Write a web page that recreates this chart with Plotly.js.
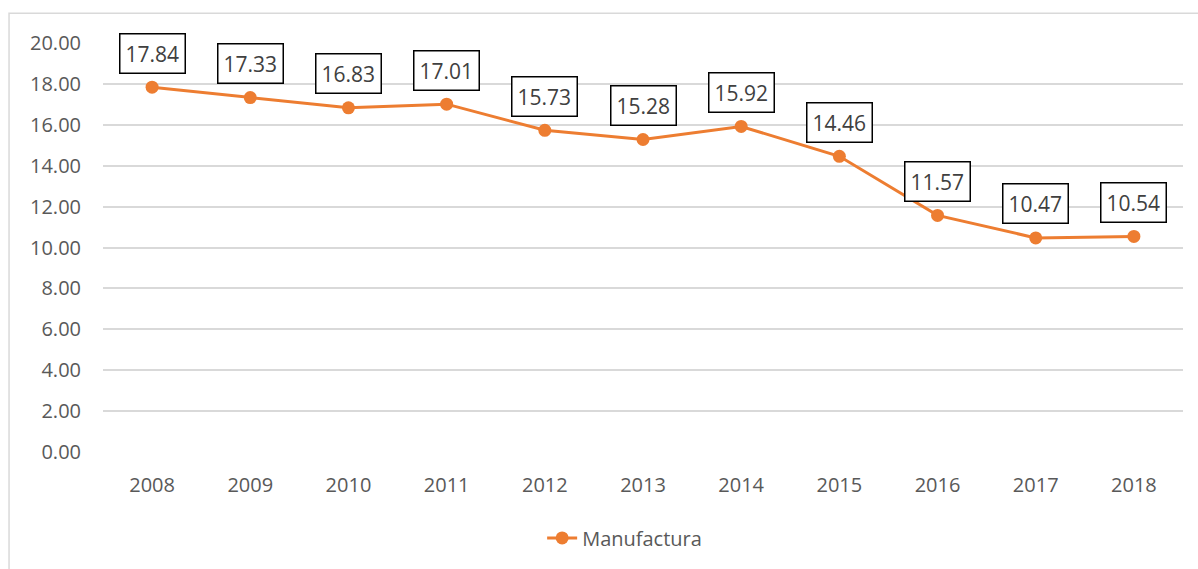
<!DOCTYPE html>
<html>
<head>
<meta charset="utf-8">
<script src="https://cdn.plot.ly/plotly-3.0.1.min.js"></script>
<style>html,body{margin:0;padding:0;background:#fff;}#chart{width:1198px;height:569px;}</style>
</head>
<body>
<div id="chart"></div>
<script>
var years = ["2008","2009","2010","2011","2012","2013","2014","2015","2016","2017","2018"];
var manufactura = [17.84, 17.33, 16.83, 17.01, 15.73, 15.28, 15.92, 14.46, 11.57, 10.47, 10.54];
var seriesName = "Manufactura";
var yTicks = [0, 2, 4, 6, 8, 10, 12, 14, 16, 18, 20];

var fontFam = "Open Sans, sans-serif";

var annotations = [];
for (var i = 0; i < years.length; i++) {
  annotations.push({
    x: i, y: manufactura[i], xref: 'x', yref: 'y',
    text: manufactura[i].toFixed(2),
    showarrow: false, yshift: 34,
    font: {family: fontFam, size: 21, color: '#404040'},
    bgcolor: '#ffffff', bordercolor: '#000000', borderwidth: 1.5, borderpad: 5
  });
}

var trace = {
  x: years, y: manufactura, type: 'scatter', mode: 'lines+markers',
  name: seriesName,
  line: {color: '#ED7D31', width: 3},
  marker: {color: '#ED7D31', size: 13}
};

var layout = {
  width: 1198, height: 569,
  margin: {l: 103, r: 15, t: 43, b: 114},
  paper_bgcolor: '#ffffff', plot_bgcolor: '#ffffff',
  showlegend: true,
  legend: {orientation: 'h', x: 0.483, xanchor: 'center', y: -0.21, yanchor: 'middle',
    font: {family: fontFam, size: 20, color: '#595959'}},
  xaxis: {type: 'category', range: [-0.5, 10.5], showgrid: false, zeroline: false,
    showline: false, ticks: '', ticklabelstandoff: 19,
    tickfont: {family: fontFam, size: 20, color: '#595959'}},
  yaxis: {range: [0, 20], tickvals: yTicks, ticktext: yTicks.map(function(v){return v.toFixed(2);}),
    showgrid: true, gridcolor: '#d9d9d9', gridwidth: 1.5, zeroline: false, showline: false,
    ticks: '', ticklabelstandoff: 21,
    tickfont: {family: fontFam, size: 20, color: '#595959'}},
  annotations: annotations,
  shapes: [{type: 'rect', xref: 'paper', yref: 'paper', x0: -0.087, x1: 1.2, y0: -0.4, y1: 1.0728,
    line: {color: '#d9d9d9', width: 1.5}, fillcolor: 'rgba(0,0,0,0)', layer: 'below'}]
};

Plotly.newPlot('chart', [trace], layout, {displayModeBar: false});
</script>
</body>
</html>
